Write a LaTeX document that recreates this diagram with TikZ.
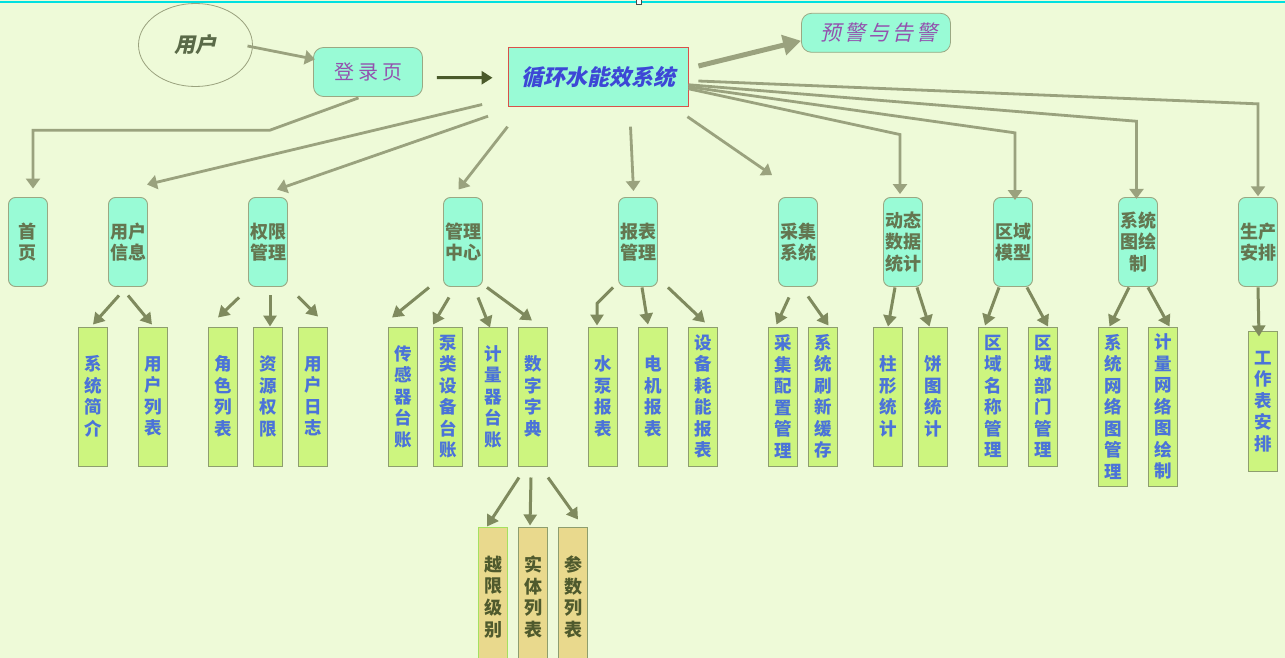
\documentclass[tikz,border=0pt]{standalone}
\usepackage{fontspec}
\newfontfamily\cjk{Noto Sans CJK SC}
\newfontfamily\cjkit{Noto Sans CJK SC}[FakeSlant=0.22]
\usetikzlibrary{arrows.meta,shapes.geometric}
\definecolor{bg}{HTML}{EEFAD8}
\definecolor{aqua}{HTML}{99FBD6}
\definecolor{lime}{HTML}{CDF57F}
\definecolor{tan}{HTML}{E9D98D}
\definecolor{bordA}{HTML}{9AA883}
\definecolor{bordB}{HTML}{8E9E6E}
\definecolor{txtA}{HTML}{647650}
\definecolor{txtB}{HTML}{4B73D9}
\definecolor{txtC}{HTML}{4F5A2D}
\definecolor{lineA}{HTML}{9AA27E}
\definecolor{lineB}{HTML}{7F8A5E}
\definecolor{darkarr}{HTML}{4A5A2A}
\definecolor{sysblue}{HTML}{3D47D6}
\definecolor{sysred}{HTML}{D9514A}
\definecolor{purp}{HTML}{9352AE}
\definecolor{cyanline}{HTML}{00E0E0}
\definecolor{litegreen}{HTML}{A5E060}
\tikzset{
  lvtwo/.style={draw=bordA, fill=aqua, rounded corners=7pt, line width=0.9pt, inner sep=0pt,
    minimum width=39pt, minimum height=89pt, text=txtA, align=center,
    font=\cjk\bfseries\fontsize{18}{21.5}\selectfont},
  lvthree/.style={draw=bordB, fill=lime, line width=1pt, inner sep=0pt,
    minimum width=29pt, minimum height=139pt, text=txtB, align=center,
    font=\cjk\bfseries\fontsize{17.5}{21.5}\selectfont},
  lvfour/.style={draw=bordB, fill=tan, line width=1pt, inner sep=0pt,
    minimum width=29pt, minimum height=139pt, text=txtC, align=center,
    font=\cjk\bfseries\fontsize{18}{21.7}\selectfont},
  conn/.style={draw=lineA, line width=2.8pt, -{Triangle[length=10pt,width=14pt]}},
  sarr/.style={draw=lineB, line width=3pt, -{Triangle[length=11pt,width=13pt]}},
}
\begin{document}
\begin{tikzpicture}[x=1pt,y=-1pt]
\useasboundingbox (0,0) rectangle (1285,658);
\fill[bg] (0,0) rectangle (1285,658);
\draw[cyanline, line width=1.5pt] (0,2.2) -- (1285,2.2);
\draw[black!70, fill=white, line width=0.6pt] (636,-1) rectangle (641,4.5);

% top level
\node[ellipse, draw=lineA, line width=0.8pt, minimum width=114pt, minimum height=83pt, inner sep=0pt,
  text=txtA!90!black, font=\cjkit\bfseries\fontsize{21}{24}\selectfont] (user) at (195.5,45) {用户};
\node[draw=bordA, fill=aqua, rounded corners=10pt, line width=0.8pt, minimum width=109pt, minimum height=49pt,
  inner sep=0pt, text=purp, font=\cjk\fontsize{20}{24}\selectfont] (dlp) at (368,72) {登\hspace{4pt}录\hspace{4pt}页};
\node[draw=sysred, fill=aqua, line width=0.9pt, minimum width=180pt, minimum height=59pt, inner sep=0pt,
  text=sysblue, font=\cjkit\bfseries\fontsize{22}{26}\selectfont] (sys) at (598,76.75) {循环水能效系统};
\node[draw=bordA, fill=aqua, rounded corners=10pt, line width=0.8pt, minimum width=149pt, minimum height=39pt,
  inner sep=0pt, text=purp, font=\cjkit\fontsize{21}{24}\selectfont] (yj) at (876,32.8) {\hspace{6pt}预\hspace{3pt}警\hspace{3pt}与\hspace{3pt}告\hspace{3pt}警};

% second level
\node[lvtwo] (sy)   at (28,242)   {首\\页};
\node[lvtwo] (yhxx) at (128,242)  {用户\\信息};
\node[lvtwo] (qxgl) at (268,242)  {权限\\管理};
\node[lvtwo] (glzx) at (463,242)  {管理\\中心};
\node[lvtwo] (bbgl) at (638,242)  {报表\\管理};
\node[lvtwo] (cjxt) at (798,242)  {采集\\系统};
\node[lvtwo] (dtsj) at (903,242)  {动态\\数据\\统计};
\node[lvtwo] (qymx) at (1013,242) {区域\\模型};
\node[lvtwo] (xttu) at (1138,242) {系统\\图绘\\制};
\node[lvtwo] (scap) at (1258,242) {生产\\安排};

% third level
\node[lvthree] (xtjj) at (93,396.5)  {系\\统\\简\\介};
\node[lvthree] (yhlb) at (153,396.5) {用\\户\\列\\表};
\node[lvthree] (jslb) at (223,396.5) {角\\色\\列\\表};
\node[lvthree] (zyqx) at (268,396.5) {资\\源\\权\\限};
\node[lvthree] (yhrz) at (313,396.5) {用\\户\\日\\志};
\node[lvthree] (cgq)  at (403,396.5) {传\\感\\器\\台\\账};
\node[lvthree] (blsb) at (448,396.5) {泵\\类\\设\\备\\台\\账};
\node[lvthree] (jlq)  at (493,396.5) {计\\量\\器\\台\\账};
\node[lvthree] (szzd) at (533,396.5) {数\\字\\字\\典};
\node[lvthree] (sbbb) at (603,396.5) {水\\泵\\报\\表};
\node[lvthree] (djbb) at (653,396.5) {电\\机\\报\\表};
\node[lvthree] (sbhn) at (703,396.5) {设\\备\\耗\\能\\报\\表};
\node[lvthree] (cjpz) at (783,396.5) {采\\集\\配\\置\\管\\理};
\node[lvthree] (xtsx) at (823,396.5) {系\\统\\刷\\新\\缓\\存};
\node[lvthree] (zxtj) at (888,396.5) {柱\\形\\统\\计};
\node[lvthree] (btj)  at (933,396.5) {饼\\图\\统\\计};
\node[lvthree] (qymc) at (993,396.5) {区\\域\\名\\称\\管\\理};
\node[lvthree] (qybm) at (1043,396.5) {区\\域\\部\\门\\管\\理};
\node[lvthree, minimum height=159pt] (xtwl) at (1113,406.5) {系\\统\\网\\络\\图\\管\\理};
\node[lvthree, minimum height=159pt] (jlwl) at (1163,406.5) {计\\量\\网\\络\\图\\绘\\制};
\node[lvthree, minimum height=139.5pt] (gzb) at (1263,401.7) {工\\作\\表\\安\\排};

% fourth level
\node[lvfour, draw=litegreen] (yxjb) at (493,597) {越\\限\\级\\别};
\node[lvfour] (stlb) at (533,597) {实\\体\\列\\表};
\node[lvfour] (cslb) at (573,597) {参\\数\\列\\表};

% top connectors
\draw[conn] ([shift={(52,1)}]user.center) -- ([shift={(1.8,-12.7)}]dlp.west);
\draw[draw=darkarr, line width=3pt, -{Triangle[length=11pt,width=13pt]}]
  ([shift={(14,5.7)}]dlp.east) -- ([shift={(-15,1)}]sys.west);
\draw[draw=lineA, line width=5pt, -{Triangle[length=18pt,width=20pt]}]
  ([shift={(10,-10.75)}]sys.east) -- ([shift={(0,8)}]yj.west);
\draw[conn] ([shift={(-9.5,1)}]dlp.south) -- ++(-88.6,32.3) -| ([shift={(5,-8.5)}]sy.north);
\draw[conn] ([shift={(-25.4,-2.2)}]sys.south west) -- ([shift={(19,-12.5)}]yhxx.north);
\draw[conn] ([shift={(-19.5,9.5)}]sys.south west) -- ([shift={(9,-7.5)}]qxgl.north);
\draw[conn] ([shift={(0,20)}]sys.south west) -- ([shift={(-4.5,-7.5)}]glzx.north);
\draw[conn] ([shift={(32.5,20)}]sys.south) -- ([shift={(-4.5,-6)}]bbgl.north);
\draw[conn] ([shift={(-1,10)}]sys.south east) -- ([shift={(-26,-22)}]cjxt.north);
\draw[conn] ([shift={(0,12)}]sys.east) -- ([shift={(-3,-62.5)}]dtsj.north) -- ([shift={(-3,-3)}]dtsj.north);
\draw[conn] ([shift={(0,10)}]sys.east) -- ([shift={(2,-64.2)}]qymx.north) -- ([shift={(2,3)}]qymx.north);
\draw[conn] ([shift={(0,8)}]sys.east) -- ([shift={(-1.5,-75.8)}]xttu.north) -- ([shift={(-1.5,1.8)}]xttu.north);
\draw[conn] ([shift={(10,4.25)}]sys.east) -- ([shift={(0,-93.2)}]scap.north) -- ([shift={(0,-0.8)}]scap.north);

% second to third level
\draw[sarr] ([shift={(-9,8.5)}]yhxx.south) -- ([shift={(0,-2)}]xtjj.north);
\draw[sarr] ([shift={(0,8.5)}]yhxx.south) -- ([shift={(-1,-2)}]yhlb.north);
\draw[sarr] ([shift={(-29,10.5)}]qxgl.south) -- ([shift={(-5,-9)}]jslb.north);
\draw[sarr] ([shift={(2,8.5)}]qxgl.south) -- ([shift={(2,0)}]zyqx.north);
\draw[sarr] ([shift={(30,9.5)}]qxgl.south) -- ([shift={(5,-10)}]yhrz.north);
\draw[sarr] ([shift={(-34,0.5)}]glzx.south) -- ([shift={(-11,-9)}]cgq.north);
\draw[sarr] ([shift={(-14,10.5)}]glzx.south) -- ([shift={(-15,-2)}]blsb.north);
\draw[sarr] ([shift={(15,10.5)}]glzx.south) -- ([shift={(-3,1)}]jlq.north);
\draw[sarr] ([shift={(24,0.5)}]glzx.south) -- ([shift={(-1,-6)}]szzd.north);
\draw[sarr] ([shift={(-25,0.5)}]bbgl.south) -- ++(-16,16) -- ([shift={(-6,-1)}]sbbb.north);
\draw[sarr] ([shift={(4,0.5)}]bbgl.south) -- ([shift={(-5,-2)}]djbb.north);
\draw[sarr] ([shift={(30,0.5)}]bbgl.south) -- ([shift={(2,-4)}]sbhn.north);
\draw[sarr] ([shift={(-9,10.5)}]cjxt.south) -- ([shift={(-6.5,-2)}]cjpz.north);
\draw[sarr] ([shift={(10,9.5)}]cjxt.south) -- ([shift={(5.5,-1)}]xtsx.north);
\draw[sarr] ([shift={(-8,0.5)}]dtsj.south) -- ([shift={(0,0)}]zxtj.north);
\draw[sarr] ([shift={(14,0.5)}]dtsj.south) -- ([shift={(-3.5,0)}]btj.north);
\draw[sarr] ([shift={(-14,0.5)}]qymx.south) -- ([shift={(-8,-1)}]qymc.north);
\draw[sarr] ([shift={(14,0.5)}]qymx.south) -- ([shift={(5,0)}]qybm.north);
\draw[sarr] ([shift={(-9,0.5)}]xttu.south) -- ([shift={(-3.5,0)}]xtwl.north);
\draw[sarr] ([shift={(10,0.5)}]xttu.south) -- ([shift={(6.5,0)}]jlwl.north);
\draw[sarr] ([shift={(0,0.5)}]scap.south) -- ([shift={(-4,5)}]gzb.north);

% third to fourth level
\draw[sarr] ([shift={(-14,11)}]szzd.south) -- ([shift={(-6,-0.5)}]yxjb.north);
\draw[sarr] ([shift={(-2,11)}]szzd.south) -- ([shift={(-3,-1.5)}]stlb.north);
\draw[sarr] ([shift={(15,11)}]szzd.south) -- ([shift={(5,-7.5)}]cslb.north);
\end{tikzpicture}
\end{document}
